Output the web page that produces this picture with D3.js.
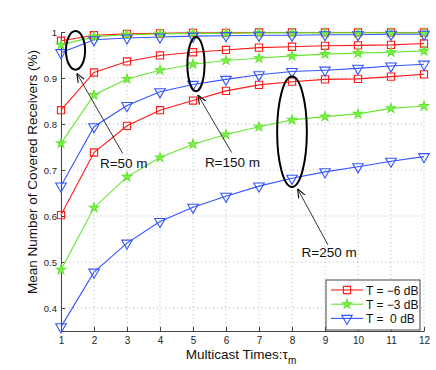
<!DOCTYPE html>
<html>
<head>
<meta charset="utf-8">
<script src="https://cdn.jsdelivr.net/npm/d3@7"></script>
<style>
  body { margin: 0; background: #fff; }
  text { font-family: "Liberation Sans", Arial, sans-serif; }
</style>
</head>
<body>
<div class="chart"></div>
<script>
const times = [1, 2, 3, 4, 5, 6, 7, 8, 9, 10, 11, 12]
const xTicks = [1, 2, 3, 4, 5, 6, 7, 8, 9, 10, 11, 12]
const yTicks = [0.4, 0.5, 0.6, 0.7, 0.8, 0.9, 1]
const yTickLabels = ["0.4", "0.5", "0.6", "0.7", "0.8", "0.9", "1"]
const legendLabels = ["T = \u22126 dB", "T = \u22123 dB", "T =  0 dB"]

// R = 50 m
const r50_m6 = [0.981, 0.993, 0.996, 0.997, 0.998, 0.998, 0.999, 0.999, 0.999, 0.999, 0.999, 0.999]
const r50_m3 = [0.972, 0.990, 0.994, 0.996, 0.997, 0.997, 0.998, 0.998, 0.998, 0.998, 0.998, 0.998]
const r50_0 = [0.955, 0.983, 0.987, 0.989, 0.991, 0.992, 0.993, 0.993, 0.994, 0.994, 0.995, 0.995]
// R = 150 m
const r150_m6 = [0.830, 0.912, 0.936, 0.949, 0.956, 0.961, 0.966, 0.968, 0.970, 0.971, 0.972, 0.975]
const r150_m3 = [0.758, 0.863, 0.898, 0.917, 0.930, 0.938, 0.943, 0.948, 0.952, 0.954, 0.956, 0.959]
const r150_0 = [0.665, 0.794, 0.840, 0.870, 0.886, 0.897, 0.907, 0.914, 0.917, 0.921, 0.926, 0.930]
// R = 250 m
const r250_m6 = [0.602, 0.738, 0.796, 0.830, 0.851, 0.872, 0.885, 0.892, 0.897, 0.898, 0.903, 0.908]
const r250_m3 = [0.483, 0.618, 0.685, 0.727, 0.756, 0.777, 0.794, 0.809, 0.816, 0.822, 0.834, 0.839]
const r250_0 = [0.359, 0.478, 0.541, 0.588, 0.619, 0.643, 0.665, 0.682, 0.696, 0.707, 0.719, 0.729]

// ellipse annotations, in data units
const circles = [
  { cx: 1.44, cy: 0.960, rx: 0.29, ry: 0.042 },
  { cx: 5.09, cy: 0.930, rx: 0.26, ry: 0.059 },
  { cx: 8.00, cy: 0.783, rx: 0.45, ry: 0.120 }
]
const notes = [
  { label: "R=50 m", tx: 2.18, ty: 0.704, x1: 2.87, y1: 0.736, x2: 1.48, y2: 0.910 },
  { label: "R=150 m", tx: 5.36, ty: 0.707, x1: 6.17, y1: 0.738, x2: 5.15, y2: 0.863 },
  { label: "R=250 m", tx: 8.29, ty: 0.511, x1: 9.09, y1: 0.537, x2: 8.17, y2: 0.659 }
]

const series = [
  { vals: r50_m6, t: 0 }, { vals: r150_m6, t: 0 }, { vals: r250_m6, t: 0 },
  { vals: r50_m3, t: 1 }, { vals: r150_m3, t: 1 }, { vals: r250_m3, t: 1 },
  { vals: r50_0, t: 2 }, { vals: r150_0, t: 2 }, { vals: r250_0, t: 2 }
]

const width = 436, height = 370
const margin = { top: 32, right: 12, bottom: 39, left: 61 }

const colors = ["#ff1a1a", "#66e633", "#3355ff"]
const fills = ["none", "#7ef04a", "none"]

const x = d3.scaleLinear().domain([1, 12]).range([margin.left, width - margin.right])
const y = d3.scaleLinear().domain([0.35, 1]).range([height - margin.bottom, margin.top])

const svg = d3.select(".chart").append("svg")
  .attr("width", width)
  .attr("height", height)

// grid
svg.append("g").selectAll("line")
  .data(xTicks)
  .enter().append("line")
  .attr("x1", d => x(d)).attr("x2", d => x(d))
  .attr("y1", y(0.35)).attr("y2", y(1))
  .attr("stroke", "#b8b8b8").attr("stroke-dasharray", "1,3")

svg.append("g").selectAll("line")
  .data(yTicks)
  .enter().append("line")
  .attr("x1", x(1)).attr("x2", x(12))
  .attr("y1", d => y(d)).attr("y2", d => y(d))
  .attr("stroke", "#b8b8b8").attr("stroke-dasharray", "1,3")

// axes
const xAxis = svg.append("g")
  .attr("transform", `translate(0, ${y(0.35)})`)
  .call(d3.axisBottom(x).tickValues(xTicks).tickSizeInner(-4).tickSizeOuter(0).tickPadding(6))
xAxis.select(".domain").attr("stroke", "#444")
xAxis.selectAll(".tick line").attr("stroke", "#444")
xAxis.selectAll("text").attr("font-size", "10px").attr("fill", "#222")
  .attr("font-family", "Liberation Sans, Arial, sans-serif")

const yAxis = svg.append("g")
  .attr("transform", `translate(${x(1)}, 0)`)
  .call(d3.axisLeft(y).tickValues(yTicks).tickFormat((d, i) => yTickLabels[i])
    .tickSizeInner(-4).tickSizeOuter(0).tickPadding(4))
yAxis.select(".domain").attr("stroke", "#444")
yAxis.selectAll(".tick line").attr("stroke", "#444")
yAxis.selectAll("text").attr("font-size", "9.5px").attr("fill", "#222")
  .attr("font-family", "Liberation Sans, Arial, sans-serif")

// lines
const line = d3.line().x((d, i) => x(times[i])).y(d => y(d))

svg.append("g").selectAll("path")
  .data(series)
  .enter().append("path")
  .attr("d", d => line(d.vals))
  .attr("fill", "none")
  .attr("stroke", d => colors[d.t])
  .attr("stroke-width", 1.1)

const shapes = [
  d3.symbol().type(d3.symbolSquare).size(52),
  d3.symbol().type(d3.symbolStar).size(26),
  d3.symbol().type(d3.symbolTriangle).size(48)
]

function drawMarker(sel, t, px, py) {
  sel.append("path")
    .attr("d", shapes[t]())
    .attr("transform", `translate(${px}, ${py})` + (t === 2 ? " rotate(180)" : ""))
    .attr("fill", fills[t])
    .attr("stroke", colors[t])
    .attr("stroke-width", 1.1)
}

const markG = svg.append("g")
series.forEach(s => {
  s.vals.forEach((v, i) => drawMarker(markG, s.t, x(times[i]), y(v)))
})

// ellipses and arrows
svg.append("g").selectAll("ellipse")
  .data(circles)
  .enter().append("ellipse")
  .attr("cx", d => x(d.cx))
  .attr("cy", d => y(d.cy))
  .attr("rx", d => x(d.cx + d.rx) - x(d.cx))
  .attr("ry", d => y(d.cy - d.ry) - y(d.cy))
  .attr("fill", "none")
  .attr("stroke", "#000")
  .attr("stroke-width", 2)

svg.append("defs").append("marker")
  .attr("id", "head")
  .attr("viewBox", "0 0 10 10")
  .attr("refX", 10).attr("refY", 5)
  .attr("markerWidth", 9).attr("markerHeight", 9)
  .attr("markerUnits", "userSpaceOnUse")
  .attr("orient", "auto")
  .append("path")
  .attr("d", "M0,1 L10,5 L0,9")
  .attr("fill", "none")
  .attr("stroke", "#000")
  .attr("stroke-width", 1.2)

const noteG = svg.append("g")
notes.forEach(n => {
  noteG.append("line")
    .attr("x1", x(n.x1)).attr("y1", y(n.y1))
    .attr("x2", x(n.x2)).attr("y2", y(n.y2))
    .attr("stroke", "#000").attr("stroke-width", 0.8)
    .attr("marker-end", "url(#head)")
  noteG.append("text")
    .attr("x", x(n.tx)).attr("y", y(n.ty))
    .attr("font-size", "13.5px")
    .attr("fill", "#111")
    .text(n.label)
})

// legend
const lg = svg.append("g")
lg.append("rect")
  .attr("x", 326).attr("y", 280).attr("width", 94).attr("height", 50)
  .attr("fill", "#fff").attr("stroke", "#444").attr("stroke-width", 1)

legendLabels.forEach((lab, i) => {
  const ly = 290 + i * 14.2
  lg.append("line")
    .attr("x1", 331).attr("x2", 363).attr("y1", ly).attr("y2", ly)
    .attr("stroke", colors[i]).attr("stroke-width", 1.1)
  drawMarker(lg, i, 347, ly)
  lg.append("text")
    .attr("x", 366).attr("y", ly + 4.5)
    .attr("font-size", "12px")
    .attr("fill", "#111")
    .attr("xml:space", "preserve")
    .style("white-space", "pre")
    .text(lab)
})

// axis titles
const xl = svg.append("text")
  .attr("x", 241).attr("y", 359)
  .attr("text-anchor", "middle")
  .attr("font-size", "13.5px")
  .attr("fill", "#111")
xl.append("tspan").text("Multicast Times:\u03c4")
xl.append("tspan").attr("font-size", "10px").attr("dy", 5).text("m")

svg.append("text")
  .attr("transform", "translate(37, 172) rotate(-90)")
  .attr("text-anchor", "middle")
  .attr("font-size", "13.5px")
  .attr("fill", "#111")
  .text("Mean Number of Covered Receivers (%)")
</script>
</body>
</html>
